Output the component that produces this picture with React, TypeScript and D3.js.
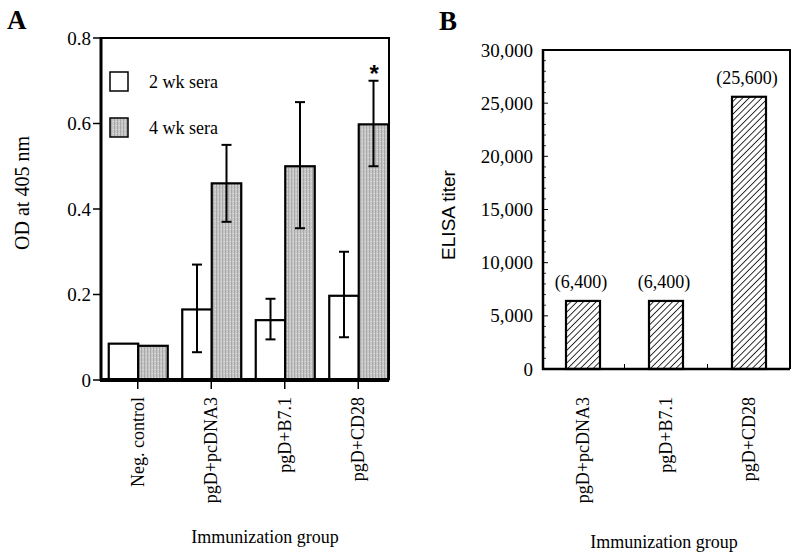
import React from "react";
import * as d3 from "d3";

// panel A: OD at 405 nm, 2 wk vs 4 wk sera
const groupsA = ["Neg. control", "pgD+pcDNA3", "pgD+B7.1", "pgD+CD28"];
const wk2 = [0.085, 0.165, 0.14, 0.197];
const wk4 = [0.08, 0.46, 0.5, 0.598];
const wk2Lo = [null, 0.065, 0.095, 0.1];
const wk2Hi = [null, 0.27, 0.19, 0.3];
const wk4Lo = [null, 0.37, 0.355, 0.5];
const wk4Hi = [null, 0.55, 0.65, 0.7];
const ticksA = [0, 0.2, 0.4, 0.6, 0.8];
const legendA = ["2 wk sera", "4 wk sera"];

// panel B: ELISA titer
const groupsB = ["pgD+pcDNA3", "pgD+B7.1", "pgD+CD28"];
const titers = [6400, 6400, 25600];
const titerLabels = ["(6,400)", "(6,400)", "(25,600)"];
const ticksB = [0, 5000, 10000, 15000, 20000, 25000, 30000];

const serif = "Liberation Serif, Times New Roman, Times, serif";
const sans = "Liberation Sans, Arial, sans-serif";

const fmtA = (v: number) => (v === 0 ? "0" : d3.format(".1f")(v));
const fmtB = d3.format(",");

const PanelA = () => {
  const x = d3.scaleBand().domain(groupsA).range([101, 395]);
  const y = d3.scaleLinear().domain([0, 0.8]).range([380, 38]);
  const sub = d3.scaleBand().domain(["2", "4"]).range([-29, 30]);
  const series = [
    { key: "2", vals: wk2, lo: wk2Lo, hi: wk2Hi, fill: "#fff" },
    { key: "4", vals: wk4, lo: wk4Lo, hi: wk4Hi, fill: "url(#grayTex)" },
  ];
  const cx = (g: string) => (x(g) as number) + x.bandwidth() / 2;

  return (
    <g>
      <text x={7} y={29} fontFamily={serif} fontWeight="bold" fontSize={27}>A</text>
      {/* frame */}
      <path d={`M101,${y(0.8)} H389 V380`} fill="none" stroke="#000" strokeWidth={2} />
      {series.map(s =>
        groupsA.map((g, i) => (
          <rect
            key={s.key + g}
            x={cx(g) + (sub(s.key) as number)}
            y={y(s.vals[i])}
            width={sub.bandwidth()}
            height={y(0) - y(s.vals[i])}
            fill={s.fill}
            stroke="#000"
            strokeWidth={2.2}
          />
        ))
      )}
      {series.map(s =>
        groupsA.map((g, i) => {
          if (s.lo[i] == null) return null;
          const bx = cx(g) + (sub(s.key) as number) + sub.bandwidth() / 2;
          return (
            <g key={"e" + s.key + g} stroke="#000" strokeWidth={2}>
              <line x1={bx} x2={bx} y1={y(s.lo[i] as number)} y2={y(s.hi[i] as number)} />
              <line x1={bx - 5} x2={bx + 5} y1={y(s.lo[i] as number)} y2={y(s.lo[i] as number)} />
              <line x1={bx - 5} x2={bx + 5} y1={y(s.hi[i] as number)} y2={y(s.hi[i] as number)} />
            </g>
          );
        })
      )}
      <text x={cx("pgD+CD28") + 16} y={y(wk4Hi[3] as number) + 1} textAnchor="middle"
        fontFamily={sans} fontWeight="bold" fontSize={24}>*</text>
      {/* axes */}
      <line x1={101} x2={101} y1={y(0.8) - 1} y2={381} stroke="#000" strokeWidth={3} />
      <line x1={100} x2={389} y1={380} y2={380} stroke="#000" strokeWidth={4} />
      {ticksA.map(t => (
        <g key={t}>
          <line x1={93} x2={101} y1={y(t)} y2={y(t)} stroke="#000" strokeWidth={1.5} />
          <text x={91} y={y(t)} dy="0.35em" textAnchor="end" fontFamily={serif} fontSize={19}>{fmtA(t)}</text>
        </g>
      ))}
      {groupsA.map(g => (
        <g key={g}>
          <line x1={cx(g)} x2={cx(g)} y1={380} y2={389} stroke="#000" strokeWidth={1.5} />
          <text transform={`translate(${cx(g)},397) rotate(-90)`} dy="0.33em" textAnchor="end"
            fontFamily={serif} fontSize={18}>{g}</text>
        </g>
      ))}
      {/* legend */}
      {legendA.map((l, i) => (
        <g key={l}>
          <rect x={110} y={72 + i * 46} width={18} height={19} fill={i ? "url(#grayTex)" : "#fff"}
            stroke="#000" strokeWidth={1.5} />
          <text x={149} y={88 + i * 46} fontFamily={serif} fontSize={18}>{l}</text>
        </g>
      ))}
      <text transform="translate(22,193) rotate(-90)" dy="0.35em" textAnchor="middle"
        fontFamily={serif} fontSize={20}>OD at 405 nm</text>
      <text x={265} y={543} textAnchor="middle" fontFamily={serif} fontSize={18}>Immunization group</text>
    </g>
  );
};

const PanelB = () => {
  const x = d3.scaleBand().domain(groupsB).range([541.5, 790.5]);
  const y = d3.scaleLinear().domain([0, 30000]).range([369, 50]);
  const bw = 34;
  const cx = (g: string) => (x(g) as number) + x.bandwidth() / 2;
  const minor = d3.range(1000, 30000, 1000).filter(v => v % 5000 !== 0);

  return (
    <g>
      <text x={439} y={30} fontFamily={serif} fontWeight="bold" fontSize={27}>B</text>
      <path d={`M543,${y(30000)} H790 V369`} fill="none" stroke="#000" strokeWidth={2} />
      {groupsB.map((g, i) => (
        <g key={g}>
          <rect x={cx(g) - bw / 2} y={y(titers[i])} width={bw} height={y(0) - y(titers[i])}
            fill="url(#hatch)" stroke="#000" strokeWidth={2.2} />
          <text x={cx(g) - 2} y={y(titers[i]) - 13} textAnchor="middle" fontFamily={serif} fontSize={18}>
            {titerLabels[i]}
          </text>
        </g>
      ))}
      <line x1={543} x2={543} y1={y(30000) - 1} y2={370} stroke="#000" strokeWidth={2.5} />
      <line x1={542} x2={790} y1={369} y2={369} stroke="#000" strokeWidth={2.5} />
      {ticksB.map(t => (
        <g key={t}>
          <line x1={543} x2={548} y1={y(t)} y2={y(t)} stroke="#000" strokeWidth={1} />
          <text x={533} y={y(t)} dy="0.35em" textAnchor="end" fontFamily={serif} fontSize={19}>{fmtB(t)}</text>
        </g>
      ))}
      {minor.map(t => (
        <line key={t} x1={543} x2={546} y1={y(t)} y2={y(t)} stroke="#000" strokeWidth={0.8} />
      ))}
      {groupsB.slice(1).map(g => (
        <line key={g} x1={x(g) as number} x2={x(g) as number} y1={369} y2={364} stroke="#000" strokeWidth={1} />
      ))}
      {groupsB.map(g => (
        <text key={g} transform={`translate(${cx(g)},397) rotate(-90)`} dy="0.33em" textAnchor="end"
          fontFamily={serif} fontSize={18}>{g}</text>
      ))}
      <text transform="translate(448,215) rotate(-90)" dy="0.35em" textAnchor="middle"
        fontFamily={sans} fontSize={19}>ELISA titer</text>
      <text x={664} y={548} textAnchor="middle" fontFamily={serif} fontSize={18}>Immunization group</text>
    </g>
  );
};

const App = () => (
  <svg width={793} height={559} style={{ position: "absolute", left: 0, top: 0, background: "#fff" }}>
    <defs>
      <pattern id="grayTex" width={3} height={4} patternUnits="userSpaceOnUse">
        <rect width={3} height={4} fill="#c6c6c6" />
        <rect x={0} width={1} height={4} fill="#a9a9a9" />
        <rect x={2} y={1} width={1} height={1} fill="#e2e2e2" />
      </pattern>
      <pattern id="hatch" width={4.5} height={4.5} patternUnits="userSpaceOnUse" patternTransform="rotate(45)">
        <rect width={4.5} height={4.5} fill="#fff" />
        <line x1={0} x2={0} y1={0} y2={4.5} stroke="#000" strokeWidth={1.6} />
      </pattern>
    </defs>
    <PanelA />
    <PanelB />
  </svg>
);

export default App;
